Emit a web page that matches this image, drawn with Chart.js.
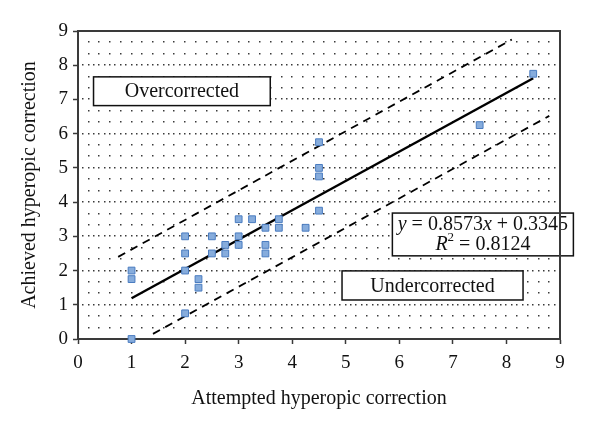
<!DOCTYPE html>
<html>
<head>
<meta charset="utf-8">
<script src="https://cdn.jsdelivr.net/npm/chart.js@4.4.1/dist/chart.umd.min.js"></script>
<style>
  html, body { margin: 0; padding: 0; background: #fff; }
  #wrap { width: 600px; height: 424px; }
</style>
</head>
<body>
<div id="wrap"><canvas id="chart" width="600" height="424"></canvas></div>
<script>
// attempted vs achieved hyperopic correction, one entry per eye
const attempted = [1, 1, 1, 2, 2, 2, 2, 2.25, 2.25, 2.5, 2.5, 2.75, 2.75, 3, 3, 3, 3.25, 3.5, 3.5, 3.5, 3.75, 3.75, 4.25, 4.5, 4.5, 4.5, 4.5, 7.5, 8.5];
const achieved  = [2, 1.75, 0, 3, 2.5, 2, 0.75, 1.75, 1.5, 3, 2.5, 2.75, 2.5, 3.5, 3, 2.75, 3.5, 3.25, 2.75, 2.5, 3.5, 3.25, 3.25, 5.75, 5, 4.75, 3.75, 6.25, 7.75];

// trend line and the two dashed limits (end points)
const fitX = [1, 8.5];
const fitY = [1.19, 7.62];
const upperX = [0.75, 8.1];
const upperY = [2.4, 8.75];
const lowerX = [1.4, 8.8];
const lowerY = [0.15, 6.52];

const axisMin = 0;
const axisMax = 9;

// text boxes inside the plot
const overText = "Overcorrected";
const underText = "Undercorrected";
const eqLine1 = [["y", true], [" = 0.8573", false], ["x", true], [" + 0.3345", false]];
const eqLine2 = [["R", true], ["2", false, true], [" = 0.8124", false]];

const serif = "'Liberation Serif', 'DejaVu Serif', serif";

function pts(xs, ys) {
  return xs.map((v, i) => ({ x: v, y: ys[i] }));
}

// dotted background lattice + frame
const dotGrid = {
  id: "dotGrid",
  beforeDatasetsDraw(chart) {
    const { ctx, scales: { x, y } } = chart;
    ctx.save();
    ctx.fillStyle = "#3a3a3a";
    for (let j = 1; j < 27; j++) {
      const py = Math.round(y.getPixelForValue(j / 3));
      const major = j % 3 === 0;
      const step = major ? 0.1 : 0.2;
      for (let v = step; v < axisMax - 0.01; v += step) {
        const px = Math.round(x.getPixelForValue(v));
        ctx.fillRect(px - 1, py - 1, 1.5, 1.5);
      }
    }
    ctx.restore();
  },
  afterDraw(chart) {
    const { ctx, chartArea: a } = chart;
    ctx.save();
    ctx.strokeStyle = "#3a3a3a";
    ctx.lineWidth = 2;
    ctx.beginPath();
    ctx.moveTo(a.left, a.top);
    ctx.lineTo(a.right, a.top);
    ctx.lineTo(a.right, a.bottom);
    ctx.stroke();
    ctx.restore();
  }
};

function drawBox(chart, x0, x1, y0, y1) {
  const { ctx, scales: { x, y } } = chart;
  const l = x.getPixelForValue(x0), r = x.getPixelForValue(x1);
  const t = y.getPixelForValue(y0), b = y.getPixelForValue(y1);
  ctx.fillStyle = "#fff";
  ctx.fillRect(l, t, r - l, b - t);
  ctx.strokeStyle = "#111";
  ctx.lineWidth = 1.5;
  ctx.strokeRect(l, t, r - l, b - t);
  return { cx: (l + r) / 2, t, b };
}

function drawRich(ctx, parts, cx, cy, size) {
  const fontOf = p => (p[1] ? "italic " : "") + (p[2] ? Math.round(size * 0.65) : size) + "px " + serif;
  let w = 0;
  parts.forEach(p => { ctx.font = fontOf(p); w += ctx.measureText(p[0]).width; });
  let px = cx - w / 2;
  parts.forEach(p => {
    ctx.font = fontOf(p);
    ctx.fillText(p[0], px, p[2] ? cy - size * 0.38 : cy);
    px += ctx.measureText(p[0]).width;
  });
}

const textBoxes = {
  id: "textBoxes",
  afterDatasetsDraw(chart) {
    const { ctx } = chart;
    ctx.save();
    ctx.textBaseline = "middle";
    ctx.textAlign = "left";
    let bx = drawBox(chart, 0.29, 3.59, 7.66, 6.82);
    ctx.fillStyle = "#111";
    drawRich(ctx, [[overText, false]], bx.cx, (bx.t + bx.b) / 2 + 1, 20);
    bx = drawBox(chart, 4.93, 8.31, 1.99, 1.14);
    ctx.fillStyle = "#111";
    drawRich(ctx, [[underText, false]], bx.cx, (bx.t + bx.b) / 2 + 1, 20);
    bx = drawBox(chart, 5.87, 9.25, 3.68, 2.43);
    ctx.fillStyle = "#111";
    drawRich(ctx, eqLine1, bx.cx, bx.t + 12, 20);
    drawRich(ctx, eqLine2, bx.cx, bx.t + 32, 20);
    ctx.restore();
  }
};

new Chart(document.getElementById("chart"), {
  type: "scatter",
  data: {
    datasets: [
      {
        data: pts(attempted, achieved),
        pointStyle: "rect",
        pointRadius: 4.8,
        backgroundColor: "#86acdc",
        borderColor: "#4a7cc0",
        borderWidth: 1,
        clip: false
      },
      {
        data: pts(fitX, fitY),
        showLine: true,
        borderColor: "#000",
        borderWidth: 2.5,
        pointRadius: 0
      },
      {
        data: pts(upperX, upperY),
        showLine: true,
        borderColor: "#000",
        borderWidth: 1.8,
        borderDash: [8, 6],
        pointRadius: 0
      },
      {
        data: pts(lowerX, lowerY),
        showLine: true,
        borderColor: "#000",
        borderWidth: 1.8,
        borderDash: [8, 6],
        pointRadius: 0
      }
    ]
  },
  options: {
    responsive: false,
    animation: false,
    events: [],
    layout: { padding: { top: 31, right: 40, left: 0, bottom: 0 } },
    plugins: { legend: { display: false }, tooltip: { enabled: false } },
    scales: {
      x: {
        type: "linear",
        min: axisMin,
        max: axisMax,
        afterFit: s => { s.height = 85; },
        ticks: { stepSize: 1, color: "#111", padding: 8, font: { family: serif, size: 19 } },
        grid: { drawOnChartArea: false, tickLength: 5, tickColor: "#3a3a3a", tickWidth: 1.5 },
        border: { color: "#3a3a3a", width: 2 },
        title: { display: true, text: "Attempted hyperopic correction", color: "#111", font: { family: serif, size: 20 }, padding: { top: 0, bottom: 13 } }
      },
      y: {
        type: "linear",
        min: axisMin,
        max: axisMax,
        afterFit: s => { s.width = 78; },
        ticks: { stepSize: 1, color: "#111", padding: 5, font: { family: serif, size: 19 } },
        grid: { drawOnChartArea: false, tickLength: 5, tickColor: "#3a3a3a", tickWidth: 1.5 },
        border: { color: "#3a3a3a", width: 2 },
        title: { display: true, text: "Achieved hyperopic correction", color: "#111", font: { family: serif, size: 20 }, padding: { top: 18, bottom: 0 } }
      }
    }
  },
  plugins: [dotGrid, textBoxes]
});
</script>
</body>
</html>
